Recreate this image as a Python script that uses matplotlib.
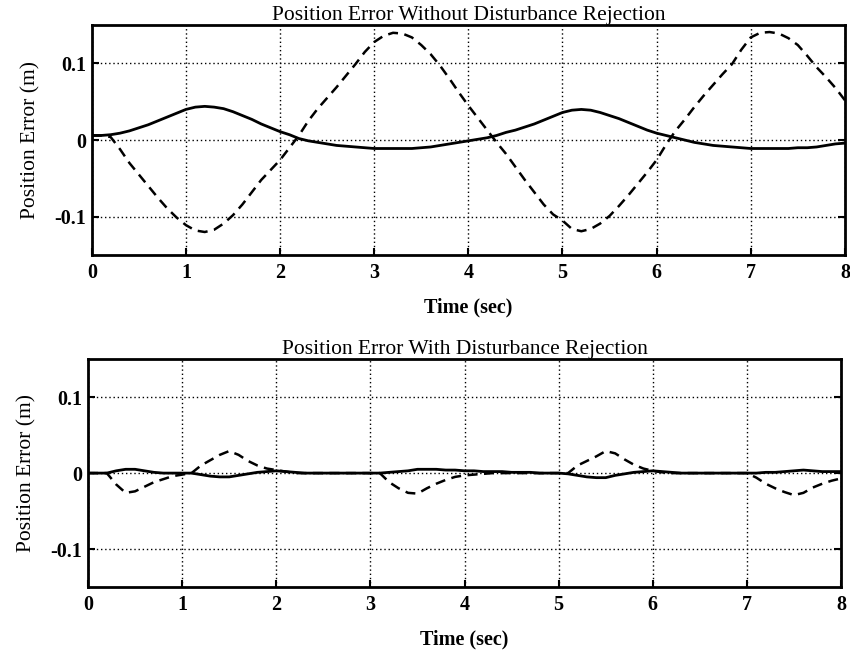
import numpy as np
import matplotlib
matplotlib.use("Agg")
import matplotlib.pyplot as plt

# Sample times (s)
time = np.round(np.arange(0, 8.01, 0.1), 1)

# Position error without disturbance rejection (m)
err_no_rej_solid = [
    0.006, 0.006, 0.007, 0.009, 0.012, 0.016, 0.020, 0.025, 0.030, 0.035,
    0.040, 0.043, 0.044, 0.043, 0.041, 0.037, 0.032, 0.027, 0.021, 0.016,
    0.011, 0.007, 0.002, -0.001, -0.003, -0.005, -0.007, -0.008, -0.009, -0.010,
    -0.011, -0.011, -0.011, -0.011, -0.011, -0.010, -0.009, -0.007, -0.005, -0.003,
    -0.001, 0.001, 0.003, 0.006, 0.010, 0.013, 0.017, 0.021, 0.026, 0.031,
    0.036, 0.039, 0.040, 0.039, 0.036, 0.032, 0.028, 0.023, 0.018, 0.013,
    0.009, 0.006, 0.003, 0.000, -0.003, -0.005, -0.007, -0.008, -0.009, -0.010,
    -0.011, -0.011, -0.011, -0.011, -0.011, -0.010, -0.010, -0.009, -0.007, -0.005,
    -0.004,
]
err_no_rej_dashed = [
    0.006, 0.006, 0.004, -0.012, -0.030, -0.045, -0.060, -0.075, -0.089, -0.101,
    -0.111, -0.118, -0.120, -0.117, -0.109, -0.098, -0.084, -0.068, -0.052, -0.039,
    -0.026, -0.010, 0.006, 0.025, 0.041, 0.055, 0.069, 0.084, 0.099, 0.115,
    0.128, 0.136, 0.140, 0.139, 0.134, 0.124, 0.112, 0.097, 0.080, 0.062,
    0.045, 0.029, 0.013, -0.003, -0.018, -0.035, -0.052, -0.068, -0.084, -0.097,
    -0.105, -0.116, -0.119, -0.116, -0.109, -0.099, -0.086, -0.072, -0.057, -0.042,
    -0.026, -0.006, 0.012, 0.027, 0.043, 0.058, 0.072, 0.086, 0.099, 0.118,
    0.134, 0.140, 0.141, 0.139, 0.133, 0.124, 0.110, 0.095, 0.082, 0.068,
    0.052,
]

# Position error with disturbance rejection (m)
err_rej_solid = [
    0.000, 0.000, 0.000, 0.003, 0.005, 0.005, 0.003, 0.001, 0.000, 0.000,
    0.000, 0.000, -0.002, -0.004, -0.005, -0.005, -0.003, -0.001, 0.001, 0.002,
    0.003, 0.002, 0.001, 0.000, 0.000, 0.000, 0.000, 0.000, 0.000, 0.000,
    0.000, 0.000, 0.001, 0.002, 0.003, 0.005, 0.005, 0.005, 0.004, 0.004,
    0.003, 0.003, 0.002, 0.002, 0.002, 0.001, 0.001, 0.001, 0.000, 0.000,
    0.000, -0.001, -0.003, -0.005, -0.006, -0.006, -0.003, -0.001, 0.001, 0.002,
    0.003, 0.002, 0.001, 0.000, 0.000, 0.000, 0.000, 0.000, 0.000, 0.000,
    0.000, 0.000, 0.001, 0.001, 0.002, 0.003, 0.004, 0.003, 0.002, 0.002,
    0.002,
]
err_rej_dashed = [
    0.000, 0.000, 0.000, -0.015, -0.026, -0.024, -0.018, -0.012, -0.008, -0.004,
    -0.002, 0.000, 0.010, 0.017, 0.024, 0.029, 0.024, 0.016, 0.010, 0.006,
    0.004, 0.002, 0.000, 0.000, 0.000, 0.000, 0.000, 0.000, 0.000, 0.000,
    0.000, 0.000, -0.012, -0.020, -0.026, -0.027, -0.020, -0.014, -0.009, -0.005,
    -0.003, -0.002, -0.001, 0.000, 0.000, 0.000, 0.000, 0.000, 0.000, 0.000,
    0.000, 0.000, 0.010, 0.016, 0.022, 0.029, 0.026, 0.018, 0.011, 0.006,
    0.003, 0.001, 0.000, 0.000, 0.000, 0.000, 0.000, 0.000, 0.000, 0.000,
    0.000, -0.006, -0.014, -0.020, -0.025, -0.029, -0.026, -0.019, -0.014, -0.010,
    -0.007,
]

x_ticks = [0, 1, 2, 3, 4, 5, 6, 7, 8]
y_ticks = [-0.1, 0, 0.1]
y_tick_labels = ["-0.1", "0", "0.1"]

titles = ["Position Error Without Disturbance Rejection",
          "Position Error With Disturbance Rejection"]

plt.rcParams["font.family"] = ["Liberation Serif", "DejaVu Serif"]

fig = plt.figure(figsize=(8.5, 6.53), dpi=100)
ax_top = fig.add_axes([0.108, 0.6095, 0.886, 0.352])
ax_bot = fig.add_axes([0.1035, 0.101, 0.886, 0.349])

panels = [
    (ax_top, err_no_rej_solid, err_no_rej_dashed, titles[0]),
    (ax_bot, err_rej_solid, err_rej_dashed, titles[1]),
]

for ax, solid, dashed, title in panels:
    ax.plot(time, solid, color="black", lw=2.0, solid_capstyle="round")
    ax.plot(time, dashed, color="black", lw=1.8, linestyle=(0, (4, 2.6)))
    ax.set_xlim(0, 8)
    ax.set_ylim(-0.15, 0.15)
    ax.set_xticks(x_ticks)
    ax.set_yticks(y_ticks)
    ax.set_yticklabels(y_tick_labels)
    ax.grid(True, color="black", linestyle=(0, (1, 2)), linewidth=1.0)
    ax.tick_params(direction="in", length=5, width=1.5, right=True, top=False,
                   labelsize=14.5)
    ax.tick_params(axis="y", pad=4)
    ax.tick_params(axis="x", pad=6)
    for lab in ax.get_xticklabels() + ax.get_yticklabels():
        lab.set_fontweight("bold")
    for sp in ax.spines.values():
        sp.set_linewidth(2.0)
    ax.set_title(title, fontsize=15.5, pad=3)
    ax.set_ylabel("Position Error (m)", fontsize=15.5, labelpad=10)
    ax.set_xlabel("Time (sec)", fontsize=14.5, fontweight="semibold", labelpad=10)

fig.savefig("out.png", dpi=100)
